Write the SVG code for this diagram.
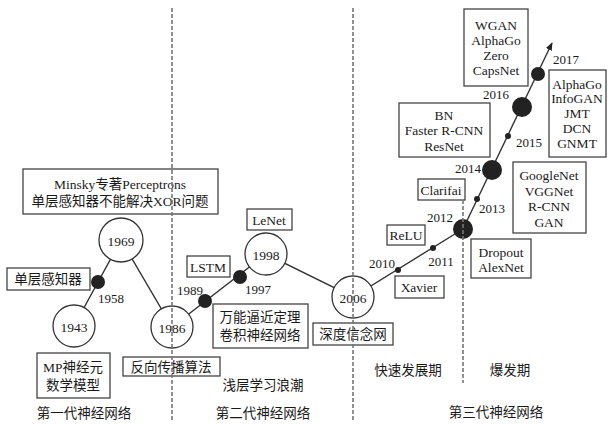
<svg xmlns="http://www.w3.org/2000/svg" width="608" height="424" viewBox="0 0 608 424">
<defs>
<style>
text{font-family:"Liberation Serif","Noto Sans CJK SC",serif;font-size:13.5px;fill:#1a1a1a;text-anchor:middle;dominant-baseline:central}
.yr{font-size:13px}
.box{fill:#fff;stroke:#444;stroke-width:1.3}
.node{fill:#fff;stroke:#333;stroke-width:1.3}
.dot{fill:#222}
.link{stroke:#333;stroke-width:1.4;fill:none}
.dash{stroke:#777;stroke-width:1.6;stroke-dasharray:4 2;fill:none}
</style>
<marker id="arr" viewBox="0 0 10 10" refX="9" refY="5" markerWidth="8" markerHeight="8" orient="auto" markerUnits="userSpaceOnUse">
<path d="M0,1 L10,5 L0,9 Z" fill="#222"/>
</marker>
</defs>
<rect width="608" height="424" fill="#fff"/>
<g id="connectors">
<polyline class="link" points="74,326 121,240 172,327 266,254 353,297 463,229"/>
<line class="link" x1="463" y1="229" x2="552" y2="43" marker-end="url(#arr)"/>
</g>
<g id="n1943"><circle class="node" cx="74" cy="326" r="21"/><text x="74" y="327">1943</text></g>
<g id="n1958"><circle class="dot" cx="98" cy="282" r="7"/><text class="yr" x="111" y="298">1958</text></g>
<g id="n1969"><circle class="node" cx="121" cy="240" r="22"/><text x="121" y="241">1969</text></g>
<g id="n1986"><circle class="node" cx="172" cy="327" r="21"/><text x="172" y="328">1986</text></g>
<g id="n1989"><circle class="dot" cx="205" cy="301" r="7"/><text class="yr" x="190" y="290">1989</text></g>
<g id="n1997"><circle class="dot" cx="240" cy="277" r="7"/><text class="yr" x="258" y="289">1997</text></g>
<g id="n1998"><circle class="node" cx="266" cy="254" r="21"/><text x="266" y="255">1998</text></g>
<g id="n2006"><circle class="node" cx="353" cy="297" r="21"/><text x="353" y="298">2006</text></g>
<g id="n2010"><circle class="dot" cx="398" cy="270" r="3"/><text class="yr" x="382" y="263">2010</text></g>
<g id="n2011"><circle class="dot" cx="433" cy="248" r="3"/><text class="yr" x="441" y="261">2011</text></g>
<g id="n2012"><circle class="dot" cx="463" cy="229" r="10"/><text class="yr" x="440" y="217">2012</text></g>
<g id="n2013"><circle class="dot" cx="477" cy="199" r="3"/><text class="yr" x="492" y="208">2013</text></g>
<g id="n2014"><circle class="dot" cx="492" cy="170" r="10"/><text class="yr" x="468" y="168">2014</text></g>
<g id="n2015"><circle class="dot" cx="508" cy="136" r="3"/><text class="yr" x="529" y="142">2015</text></g>
<g id="n2016"><circle class="dot" cx="522" cy="107" r="10"/><text class="yr" x="496" y="94">2016</text></g>
<g id="n2017"><circle class="dot" cx="538" cy="74" r="7"/><text class="yr" x="566" y="59">2017</text></g>
<g id="minsky"><rect class="box" x="23" y="169" width="195" height="45"/><text x="120" y="184">Minsky专著Perceptrons</text><text x="120" y="201">单层感知器不能解决XOR问题</text></g>
<g id="perceptron"><rect class="box" x="7" y="268" width="83" height="22"/><text x="48" y="279">单层感知器</text></g>
<g id="mp"><rect class="box" x="37" y="353" width="73" height="45"/><text x="73" y="367">MP神经元</text><text x="73" y="385">数学模型</text></g>
<g id="bp"><rect class="box" x="123" y="357" width="97" height="19"/><text x="171" y="367">反向传播算法</text></g>
<g id="lstm"><rect class="box" x="187" y="256" width="43" height="21"/><text x="208" y="267">LSTM</text></g>
<g id="lenet"><rect class="box" x="247" y="209" width="45" height="21"/><text x="269" y="220">LeNet</text></g>
<g id="cnn"><rect class="box" x="213" y="304" width="95" height="44"/><text x="260" y="317">万能逼近定理</text><text x="260" y="335">卷积神经网络</text></g>
<g id="dbn"><rect class="box" x="313" y="323" width="80" height="22"/><text x="353" y="334">深度信念网</text></g>
<g id="relu"><rect class="box" x="387" y="225" width="38" height="20"/><text x="406" y="235">ReLU</text></g>
<g id="xavier"><rect class="box" x="395" y="276" width="49" height="22"/><text x="419" y="287">Xavier</text></g>
<g id="dropout"><rect class="box" x="471" y="239" width="60" height="39"/><text x="501" y="252">Dropout</text><text x="501" y="267">AlexNet</text></g>
<g id="clarifai"><rect class="box" x="418" y="179" width="47" height="21"/><text x="441" y="190">Clarifai</text></g>
<g id="googlenet"><rect class="box" x="513" y="162" width="73" height="71"/><text x="549" y="175">GoogleNet</text><text x="549" y="191">VGGNet</text><text x="549" y="206">R-CNN</text><text x="549" y="222">GAN</text></g>
<g id="bn"><rect class="box" x="399" y="103" width="91" height="54"/><text x="444" y="115">BN</text><text x="444" y="130">Faster R-CNN</text><text x="444" y="146">ResNet</text></g>
<g id="alphago"><rect class="box" x="549" y="70" width="57" height="87"/><text x="577" y="84">AlphaGo</text><text x="577" y="98">InfoGAN</text><text x="577" y="113">JMT</text><text x="577" y="128">DCN</text><text x="577" y="143">GNMT</text></g>
<g id="wgan"><rect class="box" x="464" y="9" width="64" height="77"/><text x="496" y="25">WGAN</text><text x="496" y="40">AlphaGo</text><text x="496" y="55">Zero</text><text x="496" y="70">CapsNet</text></g>
<g id="labels">
<text x="263" y="385">浅层学习浪潮</text>
<text x="408" y="370">快速发展期</text>
<text x="510" y="370">爆发期</text>
<text x="84" y="413">第一代神经网络</text>
<text x="263" y="413">第二代神经网络</text>
<text x="496" y="412">第三代神经网络</text>
</g>
<g id="dividers">
<line class="dash" x1="172" y1="8" x2="172" y2="422"/>
<line class="dash" x1="353" y1="8" x2="353" y2="422"/>
<line class="dash" x1="463" y1="200" x2="463" y2="383"/>
</g>
</svg>
